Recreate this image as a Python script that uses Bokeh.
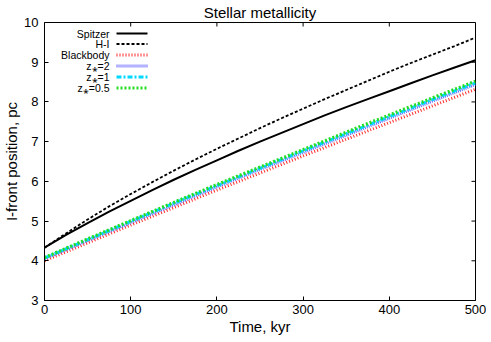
from bokeh.plotting import figure
from bokeh.models import Range1d, FixedTicker
from bokeh.embed import file_html
from bokeh.resources import INLINE

# ---- data ----
t_black = [0, 25, 50, 75, 100, 125, 150, 175, 200, 225, 250,
           275, 300, 325, 350, 375, 400, 425, 450, 475, 500]
spitzer = [4.33, 4.65, 4.95, 5.24, 5.51, 5.78, 6.04, 6.29, 6.53, 6.77, 7.00,
           7.22, 7.44, 7.66, 7.87, 8.07, 8.27, 8.47, 8.67, 8.86, 9.05]
h_i = [4.33, 4.69, 5.04, 5.37, 5.68, 5.98, 6.27, 6.55, 6.82, 7.08, 7.34,
       7.59, 7.83, 8.07, 8.30, 8.53, 8.76, 8.98, 9.19, 9.40, 9.62]

t_color = [0, 50, 100, 150, 200, 250, 300, 350, 400, 450, 500]
blackbody = [4.00, 4.45, 4.90, 5.34, 5.78, 6.21, 6.64, 7.06, 7.48, 7.90, 8.32]
z_2 = [4.05, 4.51, 4.96, 5.41, 5.86, 6.30, 6.73, 7.16, 7.59, 8.02, 8.44]
z_1 = [4.07, 4.53, 4.99, 5.45, 5.89, 6.33, 6.77, 7.20, 7.63, 8.06, 8.48]
z_05 = [4.08, 4.55, 5.01, 5.47, 5.92, 6.36, 6.80, 7.24, 7.67, 8.10, 8.52]

x_ticks = [0, 100, 200, 300, 400, 500]
y_ticks = [3, 4, 5, 6, 7, 8, 9, 10]

series_labels = ["Spitzer", "H-I", "Blackbody", "z\u204e=2", "z\u204e=1", "z\u204e=0.5"]
series_times = [t_black, t_black, t_color, t_color, t_color, t_color]
series_values = [spitzer, h_i, blackbody, z_2, z_1, z_05]

# ---- styles ----
styles = [
    dict(color="black", width=2.0, dash="solid"),
    dict(color="black", width=1.8, dash="3 2"),
    dict(color="#ff2a2a", width=3.0, dash="1 2"),
    dict(color="#6666ff", width=3.0, dash="1 1"),
    dict(color="#00d8ff", width=3.0, dash="5 2 2 2"),
    dict(color="#22dd22", width=3.2, dash="2 2"),
]

FONT = "Liberation Sans"
FW, FH = 431, 278
X0, X1, Y0, Y1 = 0, 500, 3, 10
TICK = 4


def px_x(px):
    return X0 + (X1 - X0) * px / FW


def px_y(py_from_top):
    return Y1 - (Y1 - Y0) * py_from_top / FH


p = figure(frame_width=FW, frame_height=FH,
           x_range=Range1d(X0, X1), y_range=Range1d(Y0, Y1),
           output_backend="svg", toolbar_location=None,
           title="Stellar metallicity",
           min_border_left=39, min_border_right=11,
           min_border_top=0, min_border_bottom=0)

p.title.align = "center"
p.title.text_font = FONT
p.title.text_font_size = "15px"
p.title.text_font_style = "normal"
p.title.text_color = "black"
p.title.offset = 0
p.title.standoff = 3

p.grid.visible = False
p.outline_line_color = "black"
p.outline_line_alpha = 1.0
p.outline_line_width = 1

p.xaxis.ticker = FixedTicker(ticks=x_ticks)
p.yaxis.ticker = FixedTicker(ticks=y_ticks)
p.xaxis.axis_label = "Time, kyr"
p.yaxis.axis_label = "I-front position, pc"

for ax in [p.xaxis[0], p.yaxis[0]]:
    ax.major_tick_in = TICK
    ax.major_tick_out = 0
    ax.minor_tick_in = 0
    ax.minor_tick_out = 0
    ax.axis_line_color = "black"
    ax.major_tick_line_color = "black"
    ax.major_label_text_font = FONT
    ax.major_label_text_font_size = "13px"
    ax.major_label_text_color = "black"
    ax.axis_label_text_font = FONT
    ax.axis_label_text_font_size = "15px"
    ax.axis_label_text_font_style = "normal"
    ax.axis_label_text_color = "black"
    ax.axis_label_standoff = 1
p.xaxis.major_label_standoff = 4
p.yaxis.major_label_standoff = 6

# mirrored ticks on top and right (drawn as short segments)
p.segment(x0=x_ticks, x1=x_ticks, y0=[Y1] * len(x_ticks),
          y1=[px_y(TICK)] * len(x_ticks), line_color="black", line_width=1)
p.segment(x0=[X1] * len(y_ticks), x1=[px_x(FW - TICK)] * len(y_ticks),
          y0=y_ticks, y1=y_ticks, line_color="black", line_width=1)

# data lines
for tt, vals, st in zip(series_times, series_values, styles):
    p.line(tt, vals, line_color=st["color"], line_width=st["width"],
           line_dash=st["dash"])

# custom legend: label (right aligned) then sample line
row_dy = [11, 21.5, 32.5, 43.5, 54.5, 65.5]
label_right = 65
samp_x0, samp_x1 = 72, 103
p.text(x=[px_x(label_right)] * len(row_dy), y=[px_y(d) for d in row_dy],
       text=series_labels, text_align="right", text_baseline="middle",
       text_font={"value": FONT}, text_font_size="10.5px", text_color="black")
for st, dy in zip(styles, row_dy):
    yy = px_y(dy)
    p.line([px_x(samp_x0), px_x(samp_x1)], [yy, yy], line_color=st["color"],
           line_width=st["width"], line_dash=st["dash"])

open("out.html", "w").write(file_html(p, INLINE))
